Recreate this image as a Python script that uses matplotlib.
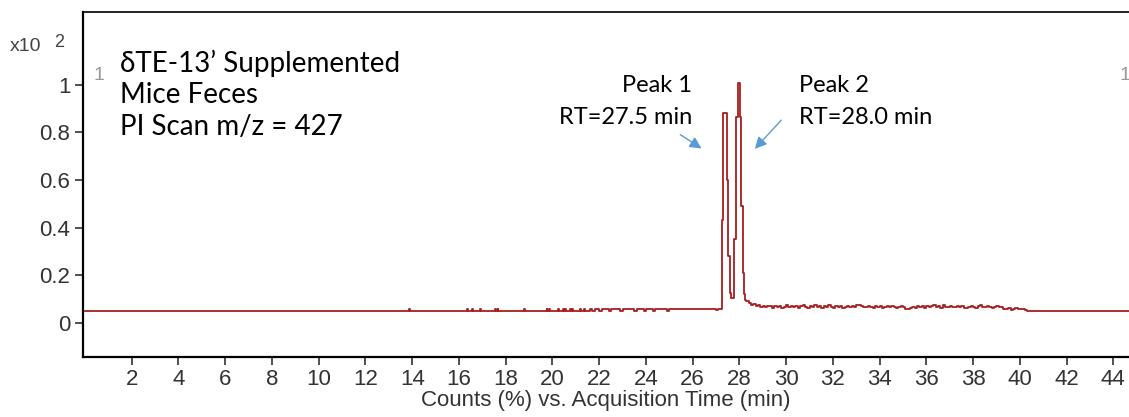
import numpy as np
import matplotlib
matplotlib.use("Agg")
import matplotlib.pyplot as plt

# chromatogram trace, counts in units of x10^2
baseline = 0.050
spike_times = [13.87, 16.35, 16.55, 16.9, 17.55, 17.65, 18.8, 19.75, 19.85,
               20.25, 20.45, 20.55, 20.75, 20.85, 21.2, 21.35]
spike_height = 0.057

# 21.5 .. 27.1 min, every 0.1 min (x1000)
dense_start = 21.5
dense_vals = [50, 57, 50, 57, 56, 50, 57, 58, 56, 50, 57, 56, 58, 57, 50, 56, 57, 58, 56,
              57, 50, 56, 58, 57, 50, 57, 56, 57, 50, 58, 57, 56, 57, 56, 50, 57, 58, 56,
              57, 56, 58, 57, 56, 57, 58, 56, 59, 57, 56, 58, 57, 59, 56, 58, 59, 52, 57]

# the two peaks (x1000)
peak_t = [27.20, 27.24, 27.27, 27.31, 27.45, 27.52, 27.60, 27.64, 27.78, 27.85,
          27.93, 28.03, 28.08, 28.14, 28.20, 28.25]
peak_v = [58, 85, 430, 880, 600, 280, 125, 104, 350, 865,
          1006, 865, 490, 210, 120, 95]

# tail 28.3 .. 40.3 min, every 0.1 min (x1000)
tail_start = 28.3
tail_vals = [90, 82, 75, 78, 70, 73, 66, 71, 64, 69,
             72, 63, 70, 66, 72, 62, 68, 73, 64, 70,
             66, 72, 63, 69, 74, 65, 62, 70, 67, 73,
             64, 70, 62, 71, 66, 73, 65, 62, 70, 66,
             71, 63, 67, 72, 64, 69, 66, 74, 76, 70,
             65, 68, 72, 64, 62, 70, 66, 71, 63, 67,
             70, 65, 72, 68, 63, 66, 71, 64, 59, 57,
             62, 68, 63, 70, 66, 72, 63, 69, 66, 71,
             73, 64, 70, 62, 74, 68, 65, 72, 67, 64,
             71, 65, 69, 63, 60, 66, 71, 65, 63, 70,
             73, 66, 64, 72, 68, 62, 67, 70, 65, 64,
             59, 57, 60, 55, 58, 61, 56, 59, 57, 55, 50]
t_end = 44.7

x_ticks = list(range(2, 45, 2))
y_ticks = [0, 0.2, 0.4, 0.6, 0.8, 1]
y_labels = ["0", "0.2", "0.4", "0.6", "0.8", "1"]

title_lines = ["\u03b4TE-13\u2019 Supplemented", "Mice Feces", "PI Scan m/z = 427"]
peak1_text = ["Peak 1", "RT=27.5 min"]
peak2_text = ["Peak 2", "RT=28.0 min"]

# build trace
t = [0.0]
y = [baseline]
for st in spike_times:
    t += [st, st + 0.03]
    y += [spike_height, baseline]
for i, v in enumerate(dense_vals):
    t.append(dense_start + 0.1 * i)
    y.append(v / 1000)
for tt, v in zip(peak_t, peak_v):
    t.append(tt)
    y.append(v / 1000)
for i, v in enumerate(tail_vals):
    t.append(tail_start + 0.1 * i)
    y.append(v / 1000)
t.append(t_end)
y.append(baseline)

W, H = 1129, 417
fig = plt.figure(figsize=(W / 100, H / 100), dpi=100)
ax = fig.add_axes([83 / W, 1 - 356.5 / H, 1 - 83 / W, (356.5 - 12) / H])

ax.step(t, y, where="post", color="#a81e1e", lw=1.3)

ax.set_xlim(-0.086, 44.67)
ax.set_ylim(-0.142, 1.306)

tick_font = ["Liberation Sans", "DejaVu Sans"]
ax.set_xticks(x_ticks)
ax.set_xticklabels([str(v) for v in x_ticks], family=tick_font, fontsize=16, color="#333333")
ax.set_yticks(y_ticks)
ax.set_yticklabels(y_labels, family=tick_font, fontsize=16, color="#333333")
ax.tick_params(direction="out", length=6, width=1.2, color="#333333", pad=3)
ax.spines["right"].set_visible(False)
ax.spines["left"].set_linewidth(1.6)
ax.spines["bottom"].set_linewidth(1.6)
ax.spines["top"].set_linewidth(1.2)
ax.set_xlabel("Counts (%) vs. Acquisition Time (min)", family=tick_font,
              fontsize=16, color="#333333", labelpad=0)

# scale factor label
fig.text(10 / W, 1 - 51 / H, "x10", family=tick_font, fontsize=14, color="#444444")
fig.text(54 / W, 1 - 47 / H, "2", family=tick_font, fontsize=13, color="#444444")

# gray "1" markers
ax.text(0.35, 1.02, "1", family=tick_font, fontsize=14, color="#999999")
ax.text(44.25, 1.02, "1", family=tick_font, fontsize=14, color="#999999")

text_font = ["Lato", "DejaVu Sans"]
for i, line in enumerate(title_lines):
    ax.text(1.5, 1.054 - 0.132 * i, line, family=text_font, fontsize=20, color="black")

ax.text(25.97, 0.97, peak1_text[0], family=text_font, fontsize=17, ha="right")
ax.text(25.97, 0.835, peak1_text[1], family=text_font, fontsize=17, ha="right")
ax.text(30.55, 0.97, peak2_text[0], family=text_font, fontsize=17, ha="left")
ax.text(30.55, 0.835, peak2_text[1], family=text_font, fontsize=17, ha="left")

arrow_style = dict(arrowstyle="-|>,head_length=0.7,head_width=0.35", color="#5b9bd5", lw=1)
ax.annotate("", xy=(26.48, 0.726), xytext=(25.37, 0.797), arrowprops=arrow_style)
ax.annotate("", xy=(28.58, 0.722), xytext=(29.87, 0.86), arrowprops=arrow_style)

fig.savefig("out.png", dpi=100)
